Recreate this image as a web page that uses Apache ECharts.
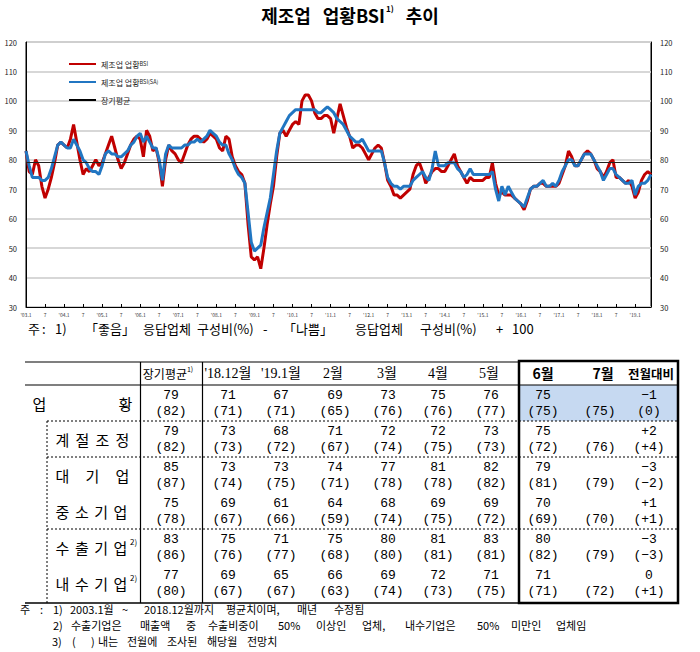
<!doctype html>
<html>
<head>
<meta charset="UTF-8">
<title>제조업 업황BSI 추이</title>
<script src="https://cdn.jsdelivr.net/npm/echarts@6/dist/echarts.min.js"></script>
<style>
html, body { margin: 0; padding: 0; background: #fff; }
#main { width: 700px; height: 652px; }
</style>
</head>
<body>
<div id="main"></div>
<script>
// 월별 범주 ('03.1 ~ '19.6)
var months = [];
for (var yy = 2003; yy <= 2019; yy++) {
  for (var mm = 1; mm <= 12; mm++) {
    if (yy == 2019 && mm > 6) break;
    months.push(yy + '.' + mm);
  }
}

// 제조업 업황BSI (원계열), 연도별 12개월
var bsi = [
  83, 76, 75, 80, 78, 71, 67, 70, 74, 79, 85, 86,      // 2003
  85, 84, 87, 92, 86, 80, 75, 77, 76, 78, 80, 78,      // 2004
  79, 82, 85, 88, 84, 80, 77, 79, 82, 85, 87, 88,      // 2005
  87, 81, 90, 88, 83, 84, 79, 71, 80, 85, 83, 82,      // 2006
  80, 79, 82, 85, 87, 88, 88, 87, 86, 87, 89, 88,      // 2007
  87, 84, 83, 88, 87, 81, 78, 76, 75, 72, 58, 47,      // 2008
  46, 47, 43, 50, 58, 65, 71, 81, 89, 90, 88, 90,      // 2009
  92, 93, 92, 100, 102, 102, 100, 96, 94, 94, 95, 95,  // 2010
  94, 89, 94, 99, 95, 91, 88, 84, 85, 85, 84, 82,      // 2011
  80, 82, 84, 85, 84, 79, 73, 71, 68, 68, 67, 68,      // 2012
  69, 70, 75, 78, 79, 76, 72, 74, 76, 77, 77, 76,      // 2013
  76, 78, 80, 82, 78, 76, 74, 72, 74, 73, 73, 73,      // 2014
  73, 74, 74, 79, 72, 68, 69, 68, 68, 68, 67, 66,      // 2015
  65, 63, 66, 70, 71, 71, 72, 72, 71, 71, 71, 71,      // 2016
  72, 75, 78, 83, 81, 78, 78, 80, 82, 83, 82, 80,      // 2017
  77, 76, 74, 76, 79, 80, 74, 74, 73, 72, 73, 71,      // 2018
  67, 69, 73, 75, 76, 75                               // 2019
];

// 제조업 업황BSI (계절조정, SA)
var bsiSA = [
  83, 78, 74, 74, 74, 73, 73, 74, 77, 81, 85, 86,      // 2003
  85, 84, 84, 87, 85, 83, 80, 79, 77, 76, 76, 75,      // 2004
  78, 82, 83, 82, 82, 81, 81, 82, 83, 85, 86, 88,      // 2005
  89, 86, 88, 86, 84, 84, 80, 73, 82, 85, 84, 84,      // 2006
  84, 84, 85, 85, 86, 86, 87, 86, 87, 88, 90, 89,      // 2007
  88, 86, 85, 85, 82, 80, 77, 75, 74, 72, 62, 52,      // 2008
  49, 50, 51, 57, 62, 67, 75, 83, 89, 91, 93, 95,      // 2009
  96, 97, 97, 97, 97, 97, 97, 97, 96, 96, 97, 98,      // 2010
  97, 96, 94, 93, 92, 90, 88, 87, 86, 86, 87, 85,      // 2011
  83, 83, 83, 83, 83, 79, 74, 72, 71, 71, 70, 71,      // 2012
  71, 71, 73, 74, 75, 76, 74, 73, 77, 83, 78, 78,      // 2013
  78, 79, 79, 79, 77, 76, 74, 75, 77, 75, 75, 75,      // 2014
  75, 75, 75, 76, 70, 66, 71, 68, 71, 69, 67, 66,      // 2015
  65, 64, 67, 70, 71, 71, 72, 73, 71, 71, 72, 71,      // 2016
  73, 76, 78, 80, 80, 78, 78, 80, 82, 82, 82, 80,      // 2017
  78, 76, 73, 75, 77, 77, 75, 74, 73, 72, 72, 73,      // 2018
  68, 71, 72, 72, 73, 75                               // 2019
];

var longAvg = 79; // 장기평균

// 표 데이터
var tblHeads = ['장기평균', "'18.12월", "'19.1월", '2월', '3월', '4월', '5월', '6월', '7월', '전월대비'];
var tblRows = ['업황', '계절조정', '대기업', '중소기업', '수출기업', '내수기업'];
// 실적 (장기평균 ~ 7월), 7월은 아직 없음
var tblActual = [
  [79, 71, 67, 69, 73, 75, 76, 75, null],
  [79, 73, 68, 71, 72, 72, 73, 75, null],
  [85, 73, 73, 74, 77, 81, 82, 79, null],
  [75, 69, 61, 64, 68, 69, 69, 70, null],
  [83, 75, 71, 75, 80, 81, 83, 80, null],
  [77, 69, 65, 66, 69, 72, 71, 71, null]
];
// 전망치 (괄호)
var tblOutlook = [
  [82, 71, 71, 65, 76, 76, 77, 75, 75],
  [82, 73, 72, 67, 74, 75, 73, 72, 76],
  [87, 74, 75, 71, 78, 78, 82, 81, 79],
  [78, 67, 66, 59, 74, 75, 72, 69, 70],
  [86, 76, 77, 68, 80, 81, 81, 82, 79],
  [80, 67, 67, 63, 74, 73, 75, 71, 72]
];
var tblDiff = [-1, 2, -3, 1, -3, 0];
var tblDiffOutlook = [0, 4, -2, 1, -3, 1];

var KR = '"Noto Sans CJK KR", sans-serif';
var MONO = '"Liberation Mono", "Noto Sans CJK KR", monospace';
var SERIF = '"Liberation Serif", "Noto Sans CJK KR", serif';

var chart = echarts.init(document.getElementById('main'), null, { renderer: 'svg' });

function every6(index) { return index % 6 === 0; }

function signed(v) {
  if (v > 0) return '+' + v;
  if (v < 0) return '\u2212' + Math.abs(v);
  return '0';
}

// 표 그리기 (graphic)
var g = [];
var colX = [171, 228, 281, 335, 388, 438, 491, 543, 600, 649];
var headX = [168, 228, 281, 333, 387, 438, 489, 543, 603, 651];
var rowTop = [385, 421, 457, 493, 529, 565];
var tblBottom = 603;

function hline(x1, x2, y, w, dash) {
  g.push({ type: 'line', shape: { x1: x1, y1: y, x2: x2, y2: y },
    style: { stroke: '#000', lineWidth: w, lineDash: dash || null } });
}
function vline(x, y1, y2, w, dash) {
  g.push({ type: 'line', shape: { x1: x, y1: y1, x2: x, y2: y2 },
    style: { stroke: '#000', lineWidth: w, lineDash: dash || null } });
}
function txt(s, x, y, font, align, extra) {
  var o = { type: 'text', x: x, y: y,
    style: { text: s, font: font, fill: '#000', align: align || 'center', verticalAlign: 'middle' } };
  if (extra) for (var k in extra) o.style[k] = extra[k];
  g.push(o);
}
// 글자를 양끝 맞춤으로 배치
function spread(s, x0, x1, y, size) {
  var n = s.length;
  for (var i = 0; i < n; i++) {
    var cx = n == 1 ? (x0 + x1) / 2 : x0 + size / 2 + (x1 - x0 - size) * i / (n - 1);
    txt(s.charAt(i), cx, y, size + 'px ' + KR);
  }
}

// 제목
g.push({ type: 'text', x: 350, y: 15,
  style: { text: '{t|제조업}{sp| }{t|업황BSI}{s|1)}{sp| }{t|추이}', align: 'center', verticalAlign: 'middle',
    rich: {
      t: { font: 'bold 18px ' + KR, fill: '#000', lineHeight: 22 },
      sp: { font: 'bold 18px ' + KR, width: 12, lineHeight: 22 },
      s: { font: 'bold 8px ' + KR, fill: '#000', verticalAlign: 'top', lineHeight: 22, padding: [0, 0, 9, 1] }
    } } });

// 그래프 아래 주석 (조각별 배치)
var noteParts = [
  ['주', 28], [':', 42], ['1)', 55], ['「좋음」', 85], ['응답업체', 143], ['구성비(%)', 197],
  ['-', 263], ['「나쁨」', 283], ['응답업체', 355], ['구성비(%)', 420], ['+', 496], ['100', 512]
];
noteParts.forEach(function (p) { txt(p[0], p[1], 328, '13px ' + KR, 'left'); });

// 강조 셀
g.push({ type: 'rect', shape: { x: 519, y: rowTop[0], width: 159, height: 36 },
  style: { fill: '#c6d9f1' } });

// 표 선
hline(25, 519, 362, 1.2);
hline(25, 678, 385, 1.2);
hline(25, 678, tblBottom, 1.5);
vline(140.5, 362, tblBottom, 1.2);
vline(202.5, 362, tblBottom, 1.2);
[421, 457, 529].forEach(function (y) { hline(47, 678, y, 1, [2, 2]); });
vline(47, 421, tblBottom, 1, [2, 2]);
g.push({ type: 'rect', shape: { x: 519, y: 361, width: 159, height: tblBottom - 361 },
  style: { fill: 'none', stroke: '#000', lineWidth: 2.5 } });

// 머리글
g.push({ type: 'text', x: headX[0], y: 373,
  style: { text: '{a|' + tblHeads[0] + '}{s|1)}', align: 'center', verticalAlign: 'middle',
    rich: {
      a: { font: '12px ' + KR, fill: '#000', lineHeight: 16 },
      s: { font: '7px ' + KR, fill: '#000', verticalAlign: 'top', lineHeight: 16, padding: [0, 0, 6, 0] }
    } } });
for (var h = 1; h < tblHeads.length; h++) {
  var bold = h >= 7;
  txt(tblHeads[h], headX[h], 373, (bold ? 'bold ' : '') + (h == 9 ? '12.5px ' : '14px ') + (bold ? KR : SERIF));
}

// 행 이름
spread(tblRows[0], 32, 133, rowTop[0] + 18, 15);
for (var r = 1; r < tblRows.length; r++) {
  spread(tblRows[r], 55, r < 3 ? 130 : 128, rowTop[r] + 18, 15);
}
txt('2)', 130, rowTop[4] + 12, '8px ' + KR, 'left');
txt('2)', 130, rowTop[5] + 12, '8px ' + KR, 'left');

// 값
for (var r = 0; r < tblRows.length; r++) {
  var yTop = rowTop[r] + 10.5, yBot = rowTop[r] + 26.5;
  for (var c = 0; c < 9; c++) {
    if (tblActual[r][c] != null) txt(String(tblActual[r][c]), colX[c], yTop, '13px ' + MONO);
    txt('(' + tblOutlook[r][c] + ')', colX[c], yBot, '13px ' + MONO);
  }
  txt(signed(tblDiff[r]), colX[9], yTop, '13px ' + MONO);
  txt('(' + signed(tblDiffOutlook[r]) + ')', colX[9], yBot, '13px ' + MONO);
}

// 표 아래 주석 (낱말별 배치)
var footFont = '11px ' + KR;
var foot1 = [['주', 20], [':', 40], ['1)', 53], ['2003.1월', 70], ['~', 122], ['2018.12월까지', 144],
  ['평균치이며,', 226], ['매년', 297], ['수정됨', 334]];
var foot2 = [['2)', 53], ['수출기업은', 71], ['매출액', 140], ['중', 186], ['수출비중이', 208], ['50%', 278],
  ['이상인', 316], ['업체,', 362], ['내수기업은', 405], ['50%', 477], ['미만인', 511], ['업체임', 556]];
var foot3 = [['3)', 52], ['(', 72], [')', 91], ['내는', 98], ['전월에', 127], ['조사된', 167],
  ['해당월', 207], ['전망치', 247]];
foot1.forEach(function (p) { txt(p[0], p[1], 609, footFont, 'left'); });
foot2.forEach(function (p) { txt(p[0], p[1], 625, footFont, 'left'); });
foot3.forEach(function (p) { txt(p[0], p[1], 641, footFont, 'left'); });

var yAxisCommon = {
  type: 'value', min: 30, max: 120, interval: 10,
  axisLine: { show: true, lineStyle: { color: '#000', width: 1 } },
  axisTick: { show: false },
  axisLabel: { fontSize: 7.5, color: '#222', margin: 9, fontFamily: KR },
  splitLine: { show: true, lineStyle: { color: '#d5d5d5', width: 1.5 } }
};

var option = {
  backgroundColor: '#fff',
  animation: false,
  textStyle: { fontFamily: KR },
  grid: { left: 26, right: 49, top: 42, bottom: 345, show: true, borderColor: '#000', borderWidth: 1 },
  legend: {
    orient: 'vertical', left: 63, top: 55, itemWidth: 27, itemHeight: 10, itemGap: 10,
    data: ['제조업 업황BSI', '제조업 업황BSI(SA)', '장기평균'],
    itemStyle: { color: 'rgba(0,0,0,0)', borderColor: 'rgba(0,0,0,0)', borderWidth: 0, opacity: 0 },
    formatter: function (name) {
      if (name == '제조업 업황BSI') return '{a|제조업 업황}{b|BSI}';
      if (name == '제조업 업황BSI(SA)') return '{a|제조업 업황}{b|BSI(SA)}';
      return '{a|' + name + '}';
    },
    textStyle: {
      rich: {
        a: { fontSize: 8, color: '#222', fontFamily: KR },
        b: { fontSize: 5.5, color: '#222', fontFamily: KR }
      }
    }
  },
  xAxis: {
    type: 'category', data: months, boundaryGap: false,
    axisLine: { lineStyle: { color: '#000', width: 1 } },
    axisTick: { interval: every6, inside: true, length: 3, lineStyle: { color: '#000' } },
    axisLabel: {
      interval: every6, fontSize: 5, color: '#333', margin: 5,
      formatter: function (val) {
        var p = val.split('.');
        return p[1] == '1' ? "'" + p[0].slice(2) + '.1' : '7';
      }
    },
    splitLine: { show: false }
  },
  yAxis: [
    Object.assign({ position: 'left' }, yAxisCommon),
    Object.assign({ position: 'right' }, yAxisCommon)
  ],
  series: [
    {
      name: '장기평균', type: 'line', data: [], symbol: 'none',
      color: '#000', lineStyle: { color: '#000', width: 1.2 },
      markLine: {
        silent: true, symbol: 'none', label: { show: false },
        lineStyle: { color: '#222', width: 1.2, type: 'solid' },
        data: [{ yAxis: longAvg }]
      }
    },
    {
      name: '제조업 업황BSI', type: 'line', data: bsi, symbol: 'none',
      color: '#c00000', lineStyle: { color: '#c00000', width: 3 }
    },
    {
      name: '제조업 업황BSI(SA)', type: 'line', data: bsiSA, symbol: 'none',
      color: '#2176c2', lineStyle: { color: '#2176c2', width: 3 }
    }
  ],
  graphic: g
};

chart.setOption(option);
</script>
</body>
</html>
